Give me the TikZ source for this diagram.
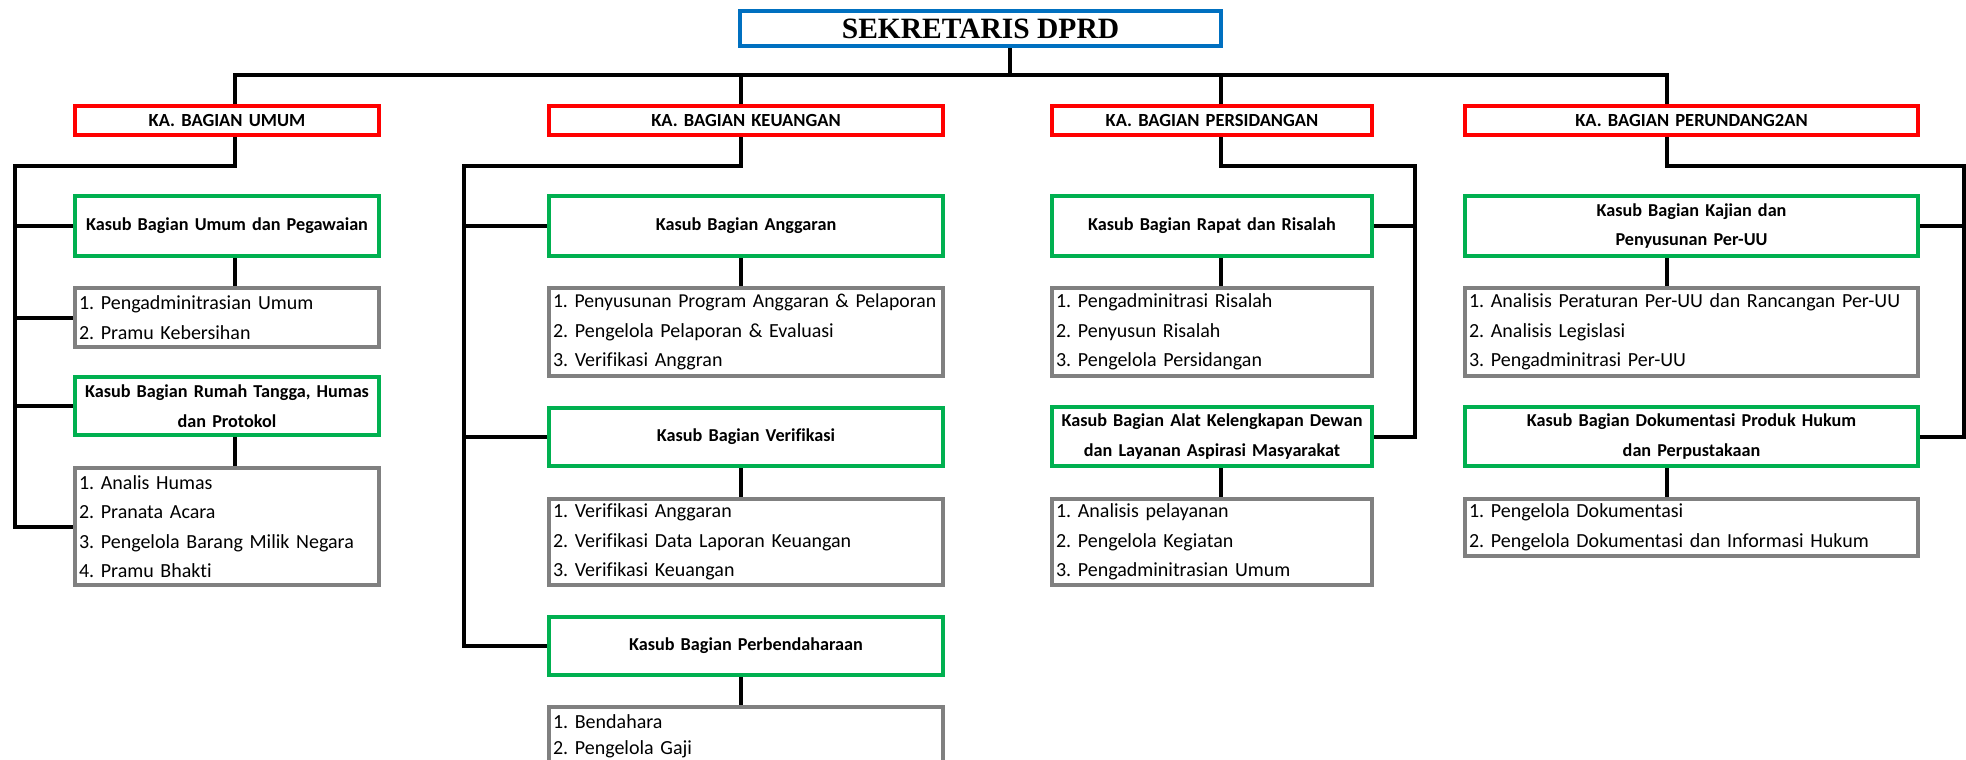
\documentclass[tikz,border=0pt]{standalone}
\usepackage{fontspec}
\setmainfont{Carlito}[Ligatures=NoCommon]
\newfontfamily\titlefont{Liberation Serif}
\usepackage{tikz}
\usetikzlibrary{positioning, calc, backgrounds}
\frenchspacing
\hyphenpenalty=10000
\exhyphenpenalty=10000
\definecolor{dprdblue}{RGB}{0,112,192}
\definecolor{dprdred}{RGB}{255,0,0}
\definecolor{dprdgreen}{RGB}{0,176,80}
\definecolor{dprdgray}{RGB}{128,128,128}
\tikzset{
  %% ---- boxes ----
  headbox/.style = {rectangle, draw=dprdblue, line width=3.5pt, fill=white,
                    minimum width=481pt, minimum height=35pt, inner sep=0pt,
                    font=\titlefont\bfseries\fontsize{29.5}{34}\selectfont},
  kabag/.style   = {rectangle, draw=dprdred, line width=4pt, fill=white,
                    text width=#1, align=center, inner xsep=4pt, inner ysep=0pt,
                    minimum height=29pt,
                    font=\bfseries\fontsize{18.5}{22}\selectfont},
  kasub/.style   = {rectangle, draw=dprdgreen, line width=4pt, fill=white,
                    text width=#1, align=center, inner xsep=4pt, inner ysep=0pt,
                    minimum height=58pt,
                    font=\bfseries\fontsize{18.2}{29.5}\selectfont},
  tugas/.style   = {rectangle, draw=dprdgray, line width=4pt, fill=white,
                    text width=#1, align=left, inner xsep=4pt, inner ysep=0pt,
                    font=\fontsize{20}{29.5}\selectfont},
  %% ---- lines ----
  link/.style    = {line width=4pt, black, line cap=rect, line join=miter},
}

\begin{document}
\begin{tikzpicture}[x=1pt, y=-1pt]
  \useasboundingbox (0,0) rectangle (1966,760);

  \node[headbox] (sekre) at (980.5,28.5) {SEKRETARIS DPRD};

  %% heads of division
  \node[kabag=296pt] (kaumum) at (227,120.5)    {KA. BAGIAN UMUM};
  \node[kabag=386pt] (kakeu)  at (746,120.5)    {KA. BAGIAN KEUANGAN};
  \node[kabag=312pt] (kasid)  at (1212,120.5)   {KA. BAGIAN PERSIDANGAN};
  \node[kabag=445pt] (kaperu) at (1691.5,120.5) {KA. BAGIAN PERUNDANG2AN};

  %% umum
  \node[kasub=296pt, minimum height=60pt] (kumum) at (227,226)
    {Kasub Bagian Umum dan Pegawaian};
  \node[tugas=296pt, minimum height=59pt] (lumum) at (227,317.5)
    {1. Pengadminitrasian Umum\\2. Pramu Kebersihan};
  \node[kasub=296pt] (krt) at (227,406)
    {Kasub Bagian Rumah Tangga, Humas\\dan Protokol};
  \node[tugas=296pt, minimum height=117pt] (lrt) at (227,526.5)
    {1. Analis Humas\\2. Pranata Acara\\3. Pengelola Barang Milik Negara\\4. Pramu Bhakti};

  %% keuangan
  \node[kasub=386pt, minimum height=60pt] (kang) at (746,226)
    {Kasub Bagian Anggaran};
  \node[tugas=386pt, minimum height=88pt] (lang) at (746,332)
    {\mbox{\fontsize{19.7}{29.5}\selectfont 1. Penyusunan Program Anggaran \& Pelaporan}\\2. Pengelola Pelaporan \& Evaluasi\\3. Verifikasi Anggran};
  \node[kasub=386pt] (kver) at (746,437)
    {Kasub Bagian Verifikasi};
  \node[tugas=386pt, minimum height=86pt] (lver) at (746,542)
    {1. Verifikasi Anggaran\\2. Verifikasi Data Laporan Keuangan\\3. Verifikasi Keuangan};
  \node[kasub=386pt] (kben) at (746,646)
    {Kasub Bagian Perbendaharaan};
  \node[tugas=386pt, minimum height=58pt, font=\fontsize{20}{26}\selectfont] (lben) at (746,736)
    {1. Bendahara\\2. Pengelola Gaji};

  %% persidangan
  \node[kasub=312pt, minimum height=60pt] (krapat) at (1212,226)
    {Kasub Bagian Rapat dan Risalah};
  \node[tugas=312pt, minimum height=88pt] (lrapat) at (1212,332)
    {1. Pengadminitrasi Risalah\\2. Penyusun Risalah\\3. Pengelola Persidangan};
  \node[kasub=312pt, minimum height=59pt] (kalat) at (1212,436.5)
    {Kasub Bagian Alat Kelengkapan Dewan\\dan Layanan Aspirasi Masyarakat};
  \node[tugas=312pt, minimum height=86pt] (lalat) at (1212,542)
    {1. Analisis pelayanan\\2. Pengelola Kegiatan\\3. Pengadminitrasian Umum};

  %% perundang2an
  \node[kasub=445pt, minimum height=60pt] (kkajian) at (1691.5,226)
    {Kasub Bagian Kajian dan\\Penyusunan Per-UU};
  \node[tugas=445pt, minimum height=88pt] (lkajian) at (1691.5,332)
    {1. Analisis Peraturan Per-UU dan Rancangan Per-UU\\2. Analisis Legislasi\\3. Pengadminitrasi Per-UU};
  \node[kasub=445pt, minimum height=59pt] (kdok) at (1691.5,436.5)
    {Kasub Bagian Dokumentasi Produk Hukum\\dan Perpustakaan};
  \node[tugas=445pt, minimum height=57pt] (ldok) at (1691.5,527.5)
    {1. Pengelola Dokumentasi\\2. Pengelola Dokumentasi dan Informasi Hukum};

  %% connectors
  \coordinate (sT) at (1010,75);
  \coordinate (sA) at (235,75);
  \coordinate (sB) at (741,75);
  \coordinate (sC) at (1221,75);
  \coordinate (sD) at (1667,75);
  \coordinate (tA) at (15,166);
  \coordinate (tB) at (464,166);
  \coordinate (tC) at (1415,166);
  \coordinate (tD) at (1964,166);

  \begin{scope}[on background layer]
    \draw[link] (sekre.south -| sT) -- (sT);
    \draw[link] (sA) -- (sD);
    \draw[link] (sA) -- (sA |- kaumum.north);
    \draw[link] (sB) -- (sB |- kakeu.north);
    \draw[link] (sC) -- (sC |- kasid.north);
    \draw[link] (sD) -- (sD |- kaperu.north);

    % umum
    \draw[link] (sA |- kaumum.south) |- (tA) -- (tA |- lrt.west);
    \draw[link] (tA |- kumum.west) -- (kumum.west);
    \draw[link] (tA |- lumum.west) -- (lumum.west);
    \draw[link] (tA |- krt.west) -- (krt.west);
    \draw[link] (tA |- lrt.west) -- (lrt.west);
    \draw[link] (sA |- kumum.south) -- (sA |- lumum.north);
    \draw[link] (sA |- krt.south) -- (sA |- lrt.north);

    % keuangan
    \draw[link] (sB |- kakeu.south) |- (tB) -- (tB |- kben.west);
    \draw[link] (tB |- kang.west) -- (kang.west);
    \draw[link] (tB |- kver.west) -- (kver.west);
    \draw[link] (tB |- kben.west) -- (kben.west);
    \draw[link] (sB |- kang.south) -- (sB |- lang.north);
    \draw[link] (sB |- kver.south) -- (sB |- lver.north);
    \draw[link] (sB |- kben.south) -- (sB |- lben.north);

    % persidangan
    \draw[link] (sC |- kasid.south) |- (tC) -- (tC |- kalat.east);
    \draw[link] (tC |- krapat.east) -- (krapat.east);
    \draw[link] (tC |- kalat.east) -- (kalat.east);
    \draw[link] (sC |- krapat.south) -- (sC |- lrapat.north);
    \draw[link] (sC |- kalat.south) -- (sC |- lalat.north);

    % perundang2an
    \draw[link] (sD |- kaperu.south) |- (tD) -- (tD |- kdok.east);
    \draw[link] (tD |- kkajian.east) -- (kkajian.east);
    \draw[link] (tD |- kdok.east) -- (kdok.east);
    \draw[link] (sD |- kkajian.south) -- (sD |- lkajian.north);
    \draw[link] (sD |- kdok.south) -- (sD |- ldok.north);
  \end{scope}

\end{tikzpicture}
\end{document}
